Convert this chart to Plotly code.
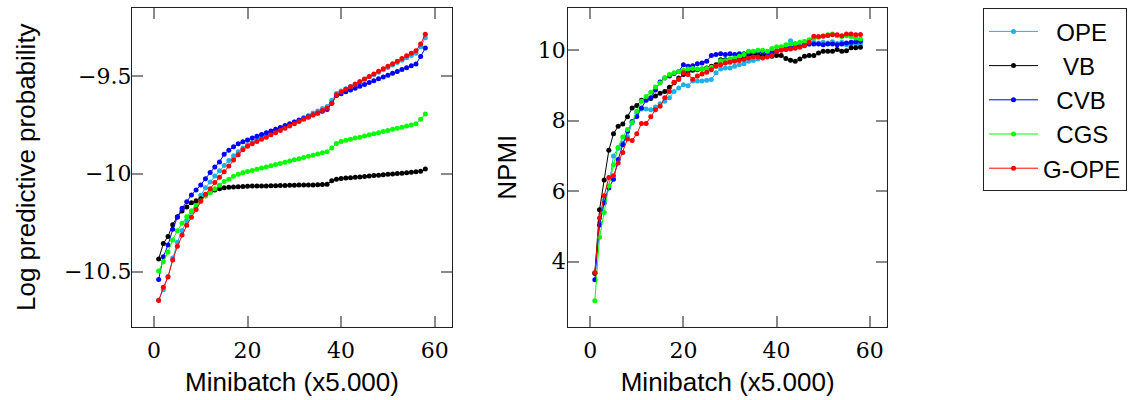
import plotly.graph_objects as go

# ---------------- data ----------------
minibatch = list(range(1, 59))
series_names = ["OPE", "VB", "CVB", "CGS", "G-OPE"]
series_colors = ["#1fb0e6", "#000000", "#0000ff", "#00ff00", "#ff0000"]
# leading non-breaking spaces only centre the names inside the legend box
legend_pad = {"OPE": 2, "VB": 3, "CVB": 2, "CGS": 2, "G-OPE": 0}

lpp_ope = [-10.645, -10.592, -10.525, -10.430, -10.350, -10.290, -10.240, -10.195, -10.152, -10.110,
           -10.071, -10.042, -10.012, -9.985, -9.958, -9.932, -9.908, -9.887, -9.868, -9.852,
           -9.840, -9.828, -9.817, -9.805, -9.794, -9.782, -9.771, -9.759, -9.748, -9.736,
           -9.725, -9.713, -9.702, -9.690, -9.679, -9.667, -9.656, -9.625, -9.590, -9.578,
           -9.566, -9.554, -9.542, -9.529, -9.517, -9.505, -9.493, -9.481, -9.469, -9.457,
           -9.445, -9.432, -9.420, -9.408, -9.396, -9.384, -9.352, -9.305]
lpp_vb = [-10.435, -10.356, -10.320, -10.260, -10.219, -10.190, -10.170, -10.148, -10.138, -10.128,
          -10.110, -10.093, -10.083, -10.076, -10.072, -10.069, -10.067, -10.066, -10.065, -10.064,
          -10.063, -10.063, -10.062, -10.062, -10.061, -10.061, -10.060, -10.060, -10.059, -10.059,
          -10.058, -10.058, -10.057, -10.057, -10.056, -10.055, -10.054, -10.036, -10.028, -10.024,
          -10.022, -10.020, -10.018, -10.016, -10.014, -10.011, -10.009, -10.007, -10.005, -10.003,
          -10.001, -9.999, -9.997, -9.995, -9.992, -9.990, -9.987, -9.976]
lpp_cvb = [-10.540, -10.424, -10.364, -10.284, -10.222, -10.176, -10.143, -10.108, -10.083, -10.057,
           -10.025, -9.994, -9.966, -9.940, -9.900, -9.880, -9.862, -9.847, -9.836, -9.827,
           -9.818, -9.809, -9.800, -9.791, -9.782, -9.773, -9.764, -9.754, -9.745, -9.736,
           -9.727, -9.718, -9.709, -9.700, -9.691, -9.681, -9.672, -9.640, -9.600, -9.591,
           -9.581, -9.572, -9.563, -9.553, -9.544, -9.534, -9.525, -9.515, -9.506, -9.497,
           -9.487, -9.478, -9.468, -9.459, -9.449, -9.440, -9.401, -9.358]
lpp_cgs = [-10.497, -10.449, -10.400, -10.338, -10.291, -10.253, -10.219, -10.189, -10.165, -10.139,
           -10.113, -10.097, -10.076, -10.059, -10.040, -10.028, -10.013, -10.003, -9.995, -9.989,
           -9.983, -9.977, -9.971, -9.965, -9.959, -9.953, -9.947, -9.941, -9.935, -9.929,
           -9.923, -9.917, -9.911, -9.905, -9.899, -9.893, -9.887, -9.868, -9.846, -9.835,
           -9.829, -9.824, -9.818, -9.813, -9.807, -9.801, -9.796, -9.790, -9.784, -9.779,
           -9.773, -9.768, -9.762, -9.756, -9.751, -9.745, -9.722, -9.695]
lpp_gope = [-10.647, -10.580, -10.527, -10.441, -10.370, -10.313, -10.263, -10.222, -10.182, -10.140,
            -10.105, -10.076, -10.045, -10.018, -9.990, -9.960, -9.930, -9.903, -9.878, -9.860,
            -9.847, -9.835, -9.824, -9.813, -9.801, -9.790, -9.779, -9.767, -9.756, -9.745,
            -9.733, -9.722, -9.711, -9.699, -9.688, -9.677, -9.665, -9.640, -9.597, -9.582,
            -9.569, -9.556, -9.543, -9.530, -9.516, -9.503, -9.490, -9.477, -9.464, -9.451,
            -9.438, -9.425, -9.411, -9.398, -9.385, -9.372, -9.338, -9.287]

npmi_ope = [3.67, 5.11, 5.74, 6.13, 7.00, 7.22, 7.37, 7.54, 7.94, 8.22,
            8.33, 8.33, 8.31, 8.39, 8.48, 8.55, 8.65, 8.83, 8.93, 9.02,
            8.99, 9.13, 9.13, 9.13, 9.15, 9.17, 9.36, 9.47, 9.50, 9.50,
            9.55, 9.59, 9.62, 9.69, 9.71, 9.75, 9.81, 9.85, 9.88, 9.95,
            10.02, 10.11, 10.27, 10.16, 10.11, 10.16, 10.18, 10.23, 10.21, 10.23,
            10.21, 10.24, 10.19, 10.23, 10.16, 10.18, 10.18, 10.18]
npmi_vb = [3.67, 5.47, 6.32, 7.16, 7.63, 7.84, 7.91, 8.11, 8.36, 8.43,
           8.58, 8.61, 8.63, 8.70, 8.78, 8.83, 8.95, 9.08, 9.21, 9.31,
           9.40, 9.43, 9.45, 9.47, 9.50, 9.55, 9.59, 9.735, 9.735, 9.735,
           9.75, 9.75, 9.78, 9.88, 9.88, 9.88, 9.85, 9.85, 9.83, 9.85,
           9.85, 9.77, 9.72, 9.69, 9.75, 9.83, 9.85, 9.85, 9.925, 9.97,
           9.97, 9.97, 10.02, 9.97, 9.99, 10.07, 10.07, 10.085]
npmi_cvb = [3.48, 5.04, 5.66, 6.09, 6.34, 6.90, 7.32, 7.70, 7.98, 8.12,
            8.36, 8.58, 8.65, 8.87, 9.10, 9.21, 9.27, 9.34, 9.40, 9.59,
            9.55, 9.56, 9.62, 9.64, 9.69, 9.85, 9.88, 9.90, 9.88, 9.90,
            9.88, 9.905, 9.905, 9.945, 9.95, 9.97, 9.945, 9.925, 9.945, 9.97,
            10.02, 10.04, 10.07, 10.11, 10.11, 10.16, 10.18, 10.18, 10.18, 10.16,
            10.18, 10.18, 10.16, 10.18, 10.21, 10.23, 10.24, 10.26]
npmi_cgs = [2.89, 4.69, 5.39, 6.15, 6.75, 7.25, 7.54, 7.75, 7.95, 8.27,
            8.55, 8.69, 8.81, 8.96, 9.07, 9.22, 9.31, 9.36, 9.40, 9.43,
            9.47, 9.48, 9.47, 9.47, 9.48, 9.52, 9.55, 9.70, 9.70, 9.76,
            9.78, 9.83, 9.88, 9.97, 9.97, 10.00, 10.00, 9.97, 10.05, 10.10,
            10.10, 10.16, 10.18, 10.19, 10.23, 10.26, 10.30, 10.35, 10.37, 10.41,
            10.44, 10.46, 10.41, 10.39, 10.41, 10.39, 10.35, 10.32]
npmi_gope = [3.69, 5.24, 5.87, 6.39, 6.44, 6.80, 7.10, 7.48, 7.44, 7.63,
             7.92, 7.92, 8.11, 8.31, 8.41, 8.65, 8.83, 9.09, 9.17, 9.36,
             9.31, 9.18, 9.27, 9.33, 9.38, 9.45, 9.55, 9.59, 9.64, 9.66,
             9.69, 9.71, 9.74, 9.78, 9.81, 9.81, 9.78, 9.81, 9.85, 9.97,
             10.00, 10.02, 10.04, 10.06, 10.09, 10.13, 10.23, 10.40, 10.39, 10.40,
             10.42, 10.44, 10.44, 10.41, 10.46, 10.46, 10.44, 10.45]

x_tick_vals = [0, 20, 40, 60]
lpp_tick_vals = [-10.5, -10.0, -9.5]
lpp_tick_text = ["\u221210.5", "\u221210", "\u22129.5"]
npmi_tick_vals = [4, 6, 8, 10]

x_title = "Minibatch (x5.000)"
left_y_title = "Log predictive probability"
right_y_title = "NPMI"

lpp_series = [lpp_ope, lpp_vb, lpp_cvb, lpp_cgs, lpp_gope]
npmi_series = [npmi_ope, npmi_vb, npmi_cvb, npmi_cgs, npmi_gope]

# ---------------- figure ----------------
fig = go.Figure()
for name, color, ys in zip(series_names, series_colors, lpp_series):
    fig.add_trace(go.Scatter(x=minibatch, y=ys, name="\u00a0" * legend_pad[name] + name,
                             mode="lines+markers",
                             line=dict(color=color, width=1),
                             marker=dict(color=color, size=5),
                             xaxis="x", yaxis="y", legendgroup=name, showlegend=True))
for name, color, ys in zip(series_names, series_colors, npmi_series):
    fig.add_trace(go.Scatter(x=minibatch, y=ys, name=name, mode="lines+markers",
                             line=dict(color=color, width=1),
                             marker=dict(color=color, size=5),
                             xaxis="x2", yaxis="y2", legendgroup=name, showlegend=False))

W, H = 1132, 400
tick_font = dict(family="DejaVu Serif", size=22, color="black")
title_font = dict(family="Liberation Sans, Arial, sans-serif", size=26, color="black")

common_axis = dict(showline=True, linecolor="#222222", linewidth=1.2, mirror="allticks",
                   ticks="inside", ticklen=11, tickwidth=1.5, tickcolor="#8a8a8a",
                   showgrid=False, zeroline=False, tickfont=tick_font)

x_range = [-4.7, 63.7]
fig.update_layout(
    width=W, height=H,
    margin=dict(l=0, r=0, t=0, b=0),
    paper_bgcolor="white", plot_bgcolor="white",
    xaxis=dict(domain=[132 / W, 452 / W], anchor="y", range=x_range,
               tickvals=x_tick_vals, ticklabelstandoff=4,
               title=dict(text=x_title, font=title_font, standoff=10),
               **common_axis),
    yaxis=dict(domain=[1 - 326.7 / H, 1 - 7.7 / H], anchor="x", range=[-10.781, -9.152],
               tickvals=lpp_tick_vals, ticktext=lpp_tick_text, ticklabelstandoff=-5,
               title=dict(text=left_y_title, font=title_font, standoff=20),
               **common_axis),
    xaxis2=dict(domain=[568.3 / W, 887 / W], anchor="y2", range=x_range,
                tickvals=x_tick_vals, ticklabelstandoff=4,
                title=dict(text=x_title, font=title_font, standoff=10),
                **common_axis),
    yaxis2=dict(domain=[1 - 326.7 / H, 1 - 7.7 / H], anchor="x2", range=[2.15, 11.21],
                tickvals=npmi_tick_vals, ticklabelstandoff=-3,
                title=dict(text=right_y_title, font=title_font, standoff=13),
                **common_axis),
    legend=dict(x=983 / W, y=1 - 8.3 / H, xanchor="left", yanchor="top",
                bordercolor="#222222", borderwidth=1, bgcolor="white",
                font=dict(family="Liberation Sans, Arial, sans-serif", size=24, color="black"),
                itemwidth=49, tracegroupgap=0),
    showlegend=True,
)

fig.write_html("out.html", config={"displayModeBar": False},
               post_script="document.body.style.margin='0';")
